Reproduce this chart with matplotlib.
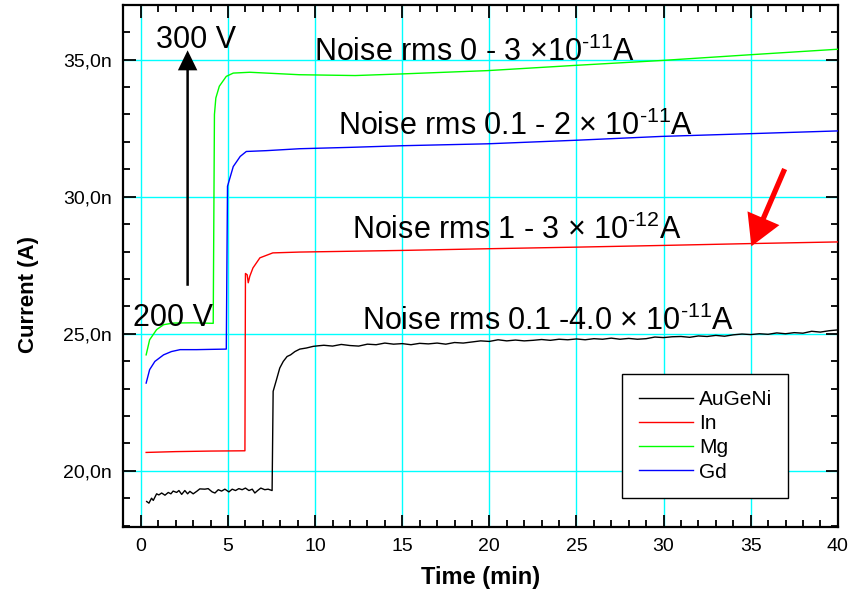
import numpy as np
import matplotlib
matplotlib.use("Agg")
import matplotlib.pyplot as plt
from matplotlib.ticker import MultipleLocator, FuncFormatter

plt.rcParams['font.family'] = ['Liberation Sans', 'DejaVu Sans']
plt.rcParams['mathtext.fontset'] = 'custom'
plt.rcParams['mathtext.rm'] = 'Liberation Sans'
plt.rcParams['mathtext.it'] = 'Liberation Sans:italic'
plt.rcParams['mathtext.bf'] = 'Liberation Sans:bold'

# ---- data (time in min, current in nA) ----
aug_t = [0.33, 0.46, 0.61, 0.71, 0.9, 1.03, 1.19, 1.38, 1.57, 1.72, 1.85, 2.05, 2.18,
         2.34, 2.52, 2.68, 2.81, 3.0, 3.2, 3.38, 3.67, 3.86, 4.09, 4.25, 4.44, 4.63,
         4.82, 5.05, 5.24, 5.43, 5.62, 5.81, 6.0, 6.2, 6.39, 6.54, 6.7, 6.88, 7.11,
         7.3, 7.53, 7.59, 7.78, 7.97, 8.17, 8.39, 8.59, 8.84, 9.12, 9.5, 9.89, 10.17,
         10.5, 11.0, 11.5, 12.0, 12.5, 13.0, 13.5, 14.0, 14.5, 15.0, 15.5, 16.0, 16.5,
         17.0, 17.5, 18.0, 18.5, 19.0, 19.5, 20.0, 20.5, 21.0, 21.5, 22.0, 22.5, 23.0,
         23.5, 24.0, 24.5, 25.0, 25.5, 26.0, 26.5, 27.0, 27.5, 28.0, 28.5, 29.0, 29.5,
         30.0, 30.5, 31.0, 31.5, 32.0, 32.5, 33.0, 33.5, 34.0, 34.5, 35.0, 35.5, 36.0,
         36.5, 37.0, 37.5, 38.0, 38.5, 39.0, 39.5, 40.0]
aug_i = [18.88, 18.82, 19.0, 18.92, 19.16, 19.12, 19.19, 19.11, 19.21, 19.16, 19.26, 19.21, 19.28,
         19.14, 19.28, 19.16, 19.25, 19.16, 19.25, 19.34, 19.33, 19.35, 19.23, 19.19, 19.31, 19.26,
         19.33, 19.23, 19.33, 19.28, 19.35, 19.31, 19.37, 19.28, 19.33, 19.19, 19.28, 19.37, 19.31,
         19.33, 19.28, 22.9, 23.32, 23.75, 23.99, 24.17, 24.23, 24.35, 24.44, 24.48, 24.54, 24.56,
         24.58, 24.55, 24.61, 24.57, 24.55, 24.62, 24.6, 24.66, 24.62, 24.64, 24.6, 24.65, 24.63,
         24.66, 24.62, 24.68, 24.66, 24.7, 24.74, 24.72, 24.78, 24.74, 24.77, 24.74, 24.76, 24.79,
         24.76, 24.8, 24.78, 24.81, 24.78, 24.82, 24.8, 24.84, 24.8, 24.83, 24.8, 24.82, 24.88,
         24.86, 24.89, 24.9, 24.87, 24.92, 24.9, 24.94, 24.91, 24.96, 24.99, 24.97, 25.0, 24.98,
         25.03, 25.0, 25.04, 25.02, 25.09, 25.06, 25.11, 25.14]

in_t = [0.3, 2.0, 4.0, 5.97, 6.0, 6.1, 6.16, 6.25, 6.43, 6.83, 7.57, 9.1, 15.0, 19.8, 25.0, 29.8, 35.0, 40.0]
in_i = [20.67, 20.7, 20.72, 20.73, 27.2, 27.15, 26.86, 27.1, 27.4, 27.77, 27.95, 27.98, 28.04, 28.1, 28.16, 28.22, 28.29, 28.35]

mg_t = [0.3, 0.5, 0.9, 1.3, 1.85, 3.0, 4.15, 4.22, 4.3, 4.5, 4.9, 5.3, 6.25, 9.1, 12.3, 15.0, 19.9, 24.9, 29.9, 35.0, 40.0]
mg_i = [24.23, 24.78, 25.15, 25.33, 25.39, 25.4, 25.38, 33.0, 33.6, 34.03, 34.39, 34.51, 34.54, 34.45, 34.42, 34.48, 34.6, 34.79, 34.97, 35.18, 35.38]

gd_t = [0.3, 0.5, 0.8, 1.3, 1.75, 2.25, 3.2, 4.0, 4.9, 4.97, 5.3, 5.7, 6.05, 7.2, 9.1, 12.0, 15.0, 19.9, 25.0, 29.9, 35.0, 40.0]
gd_i = [23.2, 23.69, 23.99, 24.23, 24.35, 24.42, 24.42, 24.43, 24.44, 30.38, 31.1, 31.47, 31.65, 31.68, 31.75, 31.8, 31.86, 31.93, 32.06, 32.2, 32.3, 32.4]

fig = plt.figure(figsize=(8.54, 6.04), dpi=100)
ax = fig.add_axes([0.144, 0.1275, 0.837, 0.8645])

ax.plot(aug_t, aug_i, color='k', lw=1.0, label='AuGeNi', zorder=3)
ax.plot(in_t, in_i, color='#ff0000', lw=1.0, label='In', zorder=3)
ax.plot(mg_t, mg_i, color='#00ff00', lw=1.0, label='Mg', zorder=3)
ax.plot(gd_t, gd_i, color='#0000ff', lw=1.0, label='Gd', zorder=3)

ax.set_xlim(-1.03, 40)
ax.set_ylim(17.95, 37.0)

ax.xaxis.set_major_locator(MultipleLocator(5))
ax.xaxis.set_minor_locator(MultipleLocator(1))
ax.yaxis.set_major_locator(MultipleLocator(5))
ax.yaxis.set_minor_locator(MultipleLocator(1))
ax.yaxis.set_major_formatter(FuncFormatter(lambda v, p: ('%.1f' % v).replace('.', ',') + 'n'))

ax.grid(True, which='major', color='#00ffff', lw=1.0, zorder=0)
ax.set_axisbelow(True)
ax.tick_params(which='both', direction='in', top=True, right=True, labelsize=14, width=1.3)
ax.tick_params(which='major', length=9, pad=8)
ax.tick_params(which='minor', length=5)
for s in ax.spines.values():
    s.set_linewidth(1.6)

ax.set_xlabel('Time (min)', fontsize=17, fontweight='bold', labelpad=8)
ax.set_ylabel('Current (A)', fontsize=16, fontweight='bold')
ax.yaxis.set_label_coords(-0.117, 0.446)

# annotations
sup = lambda s: r'$^{\text{' + s + '}}$'
ax.text(9.93, 34.94, 'Noise rms 0 - 3 \u00d710' + sup('-11') + 'A', fontsize=22, va='baseline')
ax.text(11.3, 32.26, 'Noise rms 0.1 - 2 \u00d7 10' + sup('-11') + 'A', fontsize=22, va='baseline')
ax.text(12.1, 28.46, 'Noise rms 1 - 3 \u00d7 10' + sup('-12') + 'A', fontsize=22, va='baseline')
ax.text(12.68, 25.12, 'Noise rms 0.1 -4.0 \u00d7 10' + sup('-11') + 'A', fontsize=22, va='baseline')
ax.text(0.86, 35.43, '300 V', fontsize=22, va='baseline')
ax.text(-0.46, 25.27, '200 V', fontsize=22, va='baseline')

ax.annotate('', xy=(2.68, 35.34), xytext=(2.68, 26.75),
            arrowprops=dict(arrowstyle='simple,head_length=0.72,head_width=0.7,tail_width=0.09',
                            color='k', lw=0, shrinkA=0, shrinkB=0, mutation_scale=20))
ax.annotate('', xy=(35.04, 28.19), xytext=(36.95, 31.01),
            arrowprops=dict(arrowstyle='simple,head_length=1.1,head_width=1.25,tail_width=0.19',
                            color='#ff0000', lw=0, shrinkA=0, shrinkB=0, mutation_scale=20))

leg = ax.legend(loc='lower right', bbox_to_anchor=(0.931, 0.0556), borderaxespad=0,
                fontsize=15, frameon=True, fancybox=False, framealpha=1,
                edgecolor='k', handlelength=2.6, handletextpad=0.3,
                labelspacing=0.25, borderpad=0.78)
leg.get_frame().set_linewidth(1.0)

fig.savefig('out.png', dpi=100)
